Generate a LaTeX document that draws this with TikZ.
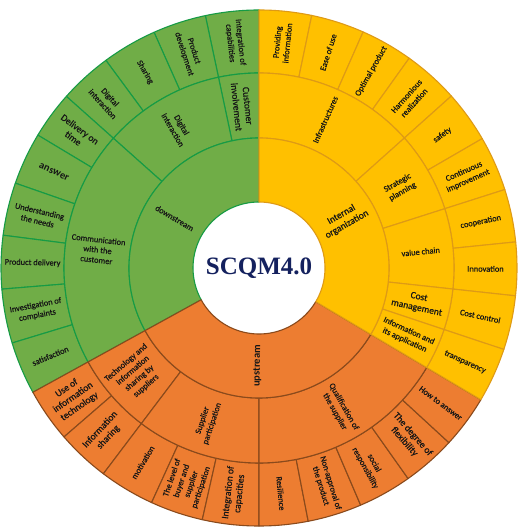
\documentclass[tikz,border=0pt]{standalone}
\usepackage{fontspec}
\setmainfont{Carlito}
\newfontfamily\labfont{Carlito}[FakeBold=0.6]
\newfontfamily\scqmfont{Liberation Serif}
\definecolor{gfill}{HTML}{70AD47}
\definecolor{gline}{HTML}{169B45}
\definecolor{yfill}{HTML}{FFC000}
\definecolor{yline}{HTML}{DE9A16}
\definecolor{ofill}{HTML}{ED7D31}
\definecolor{oline}{HTML}{8A4A1C}
\definecolor{navy}{HTML}{14215E}
\definecolor{ink}{HTML}{161616}
% #1 name, #2 r in, #3 r out, #4 a1, #5 a2, #6 sector style, #7 label style, #8 text
\newcommand\mysec[8]{%
  \draw[#6] (#4:#2pt) arc[start angle=#4,end angle=#5,radius=#2pt]
     -- (#5:#3pt) arc[start angle=#5,end angle=#4,radius=#3pt] -- cycle;
  \pgfmathsetmacro\mymid{(#4+#5)/2}%
  \pgfmathsetmacro\myrr{(#2+#3)/2}%
  \pgfmathsetmacro\myrot{(\mymid>90 && \mymid<270) ? \mymid-180 : \mymid}%
  \node[#7,rotate=\myrot] (#1) at (\mymid:\myrr pt) {#8};%
}
\tikzset{
  gseg/.style={fill=gfill,draw=gline,line width=1.1pt,line join=round},
  yseg/.style={fill=yfill,draw=yline,line width=1.1pt,line join=round},
  oseg/.style={fill=ofill,draw=oline,line width=1.1pt,line join=round},
  lab/.style={font=\labfont\fontsize{8.4}{10.2}\selectfont,align=center,inner sep=0pt,text=ink},
  biglab/.style={lab,font=\labfont\fontsize{9.6}{11.2}\selectfont},
  boldlab/.style={lab,font=\fontsize{10.5}{12}\selectfont\bfseries},
}
\begin{document}
\begin{tikzpicture}
\fill[white] (0,0) rectangle (520pt,529pt);
\useasboundingbox (0,0) rectangle (520pt,529pt);
\begin{scope}[shift={(259pt,261pt)}]
% ---------- green (downstream) ----------
\mysec{g1}{195}{258}{90}{102}{gseg}{lab}{Integration of\\capabilities}
\mysec{g2}{195}{258}{102}{114}{gseg}{lab}{Product\\development}
\mysec{g3}{195}{258}{114}{126.4}{gseg}{lab}{Sharing}
\mysec{g4}{195}{258}{126.4}{138.3}{gseg}{lab}{Digital\\interaction}
\mysec{g5}{195}{258}{138.3}{149}{gseg}{biglab}{Delivery on\\time}
\mysec{g6}{195}{258}{149}{160.8}{gseg}{boldlab}{answer}
\mysec{g7}{195}{258}{160.8}{172.7}{gseg}{lab}{Understanding\\the needs}
\mysec{g8}{195}{258}{172.7}{184.7}{gseg}{lab}{Product delivery}
\mysec{g9}{195}{258}{184.7}{196.9}{gseg}{lab}{Investigation of\\complaints}
\mysec{g10}{195}{258}{196.9}{208.8}{gseg}{lab}{satisfaction}
\mysec{gm1}{130}{195}{90}{102}{gseg}{biglab}{Customer\\involvement}
\mysec{gm2}{130}{195}{102}{138.3}{gseg}{lab}{Digital\\interaction}
\mysec{gm3}{130}{195}{138.3}{208.8}{gseg}{lab}{Communication\\with the\\customer}
\mysec{gi}{66}{130}{90}{208.8}{gseg}{lab}{downstream}
% ---------- orange (upstream) ----------
\mysec{o1}{195}{258}{208.8}{220.9}{oseg}{biglab}{Use of\\information\\technology}
\mysec{o2}{195}{258}{220.9}{232.9}{oseg}{biglab}{Information\\sharing}
\mysec{o3}{195}{258}{232.9}{245.4}{oseg}{lab}{motivation}
\mysec{o4}{195}{258}{245.4}{257.3}{oseg}{lab}{The level of\\buyer and\\supplier\\participation}
\mysec{o5}{195}{258}{257.3}{270}{oseg}{biglab}{Integration of\\capacities}
\mysec{o6}{195}{258}{270}{281}{oseg}{lab}{Resilience}
\mysec{o7}{195}{258}{281}{293.2}{oseg}{lab}{Non-approval of\\the product}
\mysec{o8}{195}{258}{293.2}{305.3}{oseg}{lab}{social\\responsibility}
\mysec{o9}{195}{258}{305.3}{317.4}{oseg}{biglab}{The degree of\\flexibility}
\mysec{o10}{195}{258}{317.4}{329.3}{oseg}{lab}{How to answer}
\mysec{om1}{130}{195}{208.8}{232.9}{oseg}{lab}{Technology and\\information\\sharing by\\suppliers}
\mysec{om2}{130}{195}{232.9}{270}{oseg}{lab}{Supplier\\participation}
\mysec{om3}{130}{195}{270}{329.3}{oseg}{lab}{Qualification of\\the supplier}
\mysec{oi}{66}{130}{208.8}{329.3}{oseg}{boldlab}{upstream}
% ---------- yellow (internal organization) ----------
\mysec{y1}{195}{258}{78.2}{90}{yseg}{lab}{Providing\\information}
\mysec{y2}{195}{258}{66.2}{78.2}{yseg}{lab}{Ease of use}
\mysec{y3}{195}{258}{54.4}{66.2}{yseg}{lab}{Optimal product}
\mysec{y4}{195}{258}{41.8}{54.4}{yseg}{lab}{Harmonious\\realization}
\mysec{y5}{195}{258}{30.1}{41.8}{yseg}{lab}{safety}
\mysec{y6}{195}{258}{17.7}{30.1}{yseg}{lab}{Continuous\\improvement}
\mysec{y7}{195}{258}{5.8}{17.7}{yseg}{lab}{cooperation}
\mysec{y8}{195}{258}{-6.2}{5.8}{yseg}{lab}{Innovation}
\mysec{y9}{195}{258}{-18.4}{-6.2}{yseg}{lab}{Cost control}
\mysec{y10}{195}{258}{-30.7}{-18.4}{yseg}{lab}{transparency}
\mysec{ym1}{130}{195}{41.8}{90}{yseg}{lab}{Infrastructures}
\mysec{ym2}{130}{195}{17.7}{41.8}{yseg}{lab}{Strategic\\planning}
\mysec{ym3}{130}{195}{-6.2}{17.7}{yseg}{lab}{value chain}
\mysec{ym4}{130}{195}{-18.4}{-6.2}{yseg}{biglab}{Cost\\management}
\mysec{ym5}{130}{195}{-30.7}{-18.4}{yseg}{lab}{Information and\\its application}
\mysec{yi}{66}{130}{-30.7}{90}{yseg}{biglab}{Internal\\organization}
% ---------- centre ----------
\node[font=\scqmfont\bfseries\fontsize{25}{28}\selectfont,text=navy,inner sep=0pt] (title) at (0,0) {SCQM4.0};
\end{scope}
\end{tikzpicture}
\end{document}
